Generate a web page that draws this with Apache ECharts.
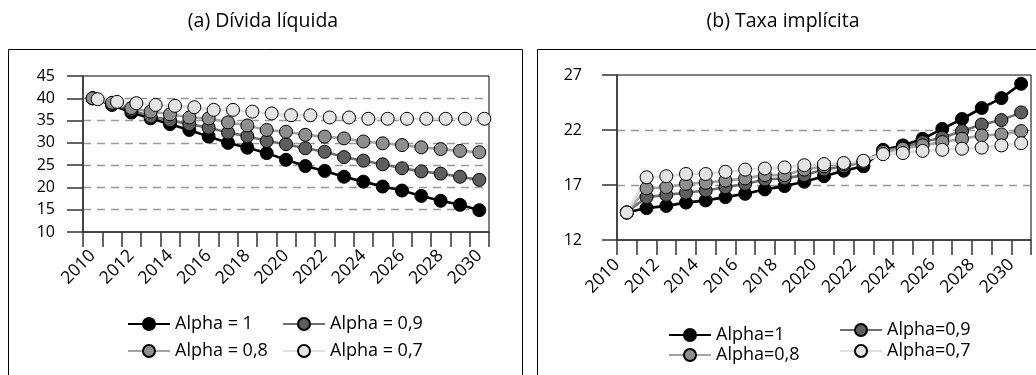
<!DOCTYPE html>
<html>
<head>
<meta charset="utf-8">
<script src="https://cdn.jsdelivr.net/npm/echarts@6/dist/echarts.min.js"></script>
<style>
  html, body { margin: 0; padding: 0; background: #fff; }
  #c { width: 1036px; height: 375px; }
</style>
</head>
<body>
<div id="c"></div>
<script>
// Years on the horizontal axis of both panels
const years = ['2010','2011','2012','2013','2014','2015','2016','2017','2018','2019','2020',
               '2021','2022','2023','2024','2025','2026','2027','2028','2029','2030'];
// Panel (b) puts its year labels on the category boundaries (one more boundary than years)
const rateTickLabels = years.concat(['']);

// (a) Dívida líquida
const debtA10 = [40.0, 38.5, 36.8, 35.5, 34.2, 32.9, 31.4, 30.0, 28.9, 27.7, 26.2, 24.8, 23.7, 22.4, 21.3, 20.2, 19.3, 18.1, 17.0, 16.1, 14.9];
const debtA09 = [40.0, 38.7, 37.4, 35.9, 35.1, 34.2, 33.4, 32.3, 31.5, 30.4, 29.7, 28.8, 28.0, 26.8, 26.0, 25.2, 24.3, 23.6, 23.1, 22.4, 21.7];
const debtA08 = [40.0, 39.0, 37.8, 37.0, 36.4, 35.7, 35.5, 34.6, 33.9, 32.9, 32.5, 31.8, 31.4, 31.0, 30.3, 29.9, 29.5, 29.0, 28.6, 28.2, 27.9];
const debtA07 = [39.8, 39.2, 38.9, 38.5, 38.3, 38.0, 37.4, 37.4, 37.0, 36.6, 36.2, 36.2, 35.7, 35.7, 35.4, 35.4, 35.4, 35.4, 35.4, 35.4, 35.4];

// (b) Taxa implícita
const rateA10 = [14.5, 14.9, 15.1, 15.4, 15.6, 15.9, 16.2, 16.6, 16.9, 17.3, 17.8, 18.3, 18.7, 20.2, 20.6, 21.2, 22.1, 23.0, 24.0, 24.9, 26.2];
const rateA09 = [14.5, 15.9, 16.1, 16.3, 16.5, 16.8, 17.1, 17.5, 17.6, 17.9, 18.4, 18.7, 19.1, 20.1, 20.4, 20.9, 21.3, 21.9, 22.5, 22.9, 23.6];
const rateA08 = [14.5, 16.7, 16.8, 17.1, 17.2, 17.4, 17.6, 17.9, 17.9, 18.4, 18.7, 18.9, 19.1, 20.0, 20.3, 20.6, 20.9, 21.2, 21.5, 21.6, 21.9];
const rateA07 = [14.5, 17.7, 17.8, 18.0, 18.0, 18.2, 18.4, 18.5, 18.6, 18.8, 18.9, 19.0, 19.2, 19.8, 19.9, 20.1, 20.2, 20.3, 20.4, 20.6, 20.8];

const FONT = 'Open Sans';
const INK = '#000';
const AXIS = '#333';

// Grey ramp shared by both panels: line colour and marker fill
const shades = [
  { line: '#000000', fill: '#000000' },
  { line: '#6f6f6f', fill: '#5e5e5e' },
  { line: '#a3a3a3', fill: '#8e8e8e' },
  { line: '#dedede', fill: '#e4e4e4' }
];

function lineSeries(name, data, axisIdx, shade) {
  return {
    type: 'line', name: name, data: data,
    xAxisIndex: axisIdx[0], yAxisIndex: axisIdx[1],
    symbol: 'circle', symbolSize: 13, showSymbol: true, showAllSymbol: true,
    lineStyle: { color: shade.line, width: 2.6 },
    itemStyle: { color: shade.fill, borderColor: '#000', borderWidth: 1 },
    emphasis: { disabled: true },
    animation: false
  };
}

function legendItem(name, left, top) {
  return {
    data: [name], left: left, top: top, padding: 0,
    itemWidth: 42, itemHeight: 15, selectedMode: false,
    textStyle: { fontFamily: FONT, fontSize: 18, color: INK }
  };
}

const yTickLabel = { fontFamily: FONT, fontSize: 16, color: INK };
const xTickLabel = { fontFamily: FONT, fontSize: 17.5, color: INK };
const dashed = { show: true, showMinLine: false, showMaxLine: false,
                 lineStyle: { color: '#999', type: [8, 6], width: 1.3 } };

const option = {
  backgroundColor: '#fff',
  animation: false,
  grid: [
    { left: 83, top: 76, width: 406, height: 156, show: true, borderColor: '#000', borderWidth: 1 },
    { left: 88, top: 76, width: 406, height: 156 },
    { left: 617, top: 75, width: 414, height: 165, show: true, borderColor: '#000', borderWidth: 1 }
  ],
  xAxis: [
    { gridIndex: 0, type: 'category', data: years, boundaryGap: true,
      axisLine: { lineStyle: { color: AXIS, width: 1.5 } },
      axisTick: { show: true, interval: 0, length: 15, lineStyle: { color: AXIS, width: 1.5 } },
      axisLabel: Object.assign({ interval: 1, rotate: 45, margin: 21 }, xTickLabel) },
    { gridIndex: 1, type: 'category', data: years, boundaryGap: true, show: false },
    { gridIndex: 2, type: 'category', data: years, boundaryGap: true, position: 'bottom',
      axisLine: { lineStyle: { color: AXIS, width: 1.5 } },
      axisTick: { show: true, interval: 0, length: 15, lineStyle: { color: AXIS, width: 1.5 } },
      axisLabel: { show: false } },
    { gridIndex: 2, type: 'category', data: rateTickLabels, boundaryGap: false, position: 'bottom',
      axisLine: { show: false }, axisTick: { show: false },
      axisLabel: Object.assign({ interval: 1, rotate: 45, margin: 22 }, xTickLabel) }
  ],
  yAxis: [
    { gridIndex: 0, type: 'value', min: 10, max: 45, interval: 5,
      axisLine: { show: true, lineStyle: { color: AXIS, width: 1.5 } },
      axisTick: { show: true, length: 16, lineStyle: { color: AXIS, width: 1.5 } },
      axisLabel: Object.assign({ margin: 28 }, yTickLabel),
      splitLine: dashed },
    { gridIndex: 1, type: 'value', min: 10, max: 45, show: false, splitLine: { show: false } },
    { gridIndex: 2, type: 'value', min: 12, max: 27, interval: 5,
      axisLine: { show: true, lineStyle: { color: AXIS, width: 1.5 } },
      axisTick: { show: true, length: 15, lineStyle: { color: AXIS, width: 1.5 } },
      axisLabel: Object.assign({ margin: 35 }, yTickLabel),
      splitLine: dashed }
  ],
  legend: [
    legendItem('Alpha = 1', 127, 315),
    legendItem('Alpha = 0,9', 282, 315),
    legendItem('Alpha = 0,8', 127, 342),
    legendItem('Alpha = 0,7', 282, 342),
    legendItem('Alpha=1', 668, 326),
    legendItem('Alpha=0,9', 839, 321),
    legendItem('Alpha=0,8', 668, 346),
    legendItem('Alpha=0,7', 839, 342)
  ],
  graphic: [
    { type: 'rect', z: -10, shape: { x: 8.5, y: 49.5, width: 514, height: 340 },
      style: { fill: 'none', stroke: '#000', lineWidth: 1 } },
    { type: 'rect', z: -10, shape: { x: 537.5, y: 49.5, width: 520, height: 340 },
      style: { fill: 'none', stroke: '#000', lineWidth: 1 } },
    { type: 'text', x: 263, y: 21,
      style: { text: '(a) Dívida líquida', fontFamily: FONT, fontSize: 19.5, fill: INK,
               align: 'center', verticalAlign: 'middle', textAlign: 'center', textVerticalAlign: 'middle' } },
    { type: 'text', x: 783, y: 21,
      style: { text: '(b) Taxa implícita', fontFamily: FONT, fontSize: 19.5, fill: INK,
               align: 'center', verticalAlign: 'middle', textAlign: 'center', textVerticalAlign: 'middle' } }
  ],
  series: [
    lineSeries('Alpha = 1',   debtA10, [0, 0], shades[0]),
    lineSeries('Alpha = 0,9', debtA09, [0, 0], shades[1]),
    lineSeries('Alpha = 0,8', debtA08, [0, 0], shades[2]),
    // this series sits on a grid nudged a few pixels right
    lineSeries('Alpha = 0,7', debtA07, [1, 1], shades[3]),
    lineSeries('Alpha=1',   rateA10, [2, 2], shades[0]),
    lineSeries('Alpha=0,9', rateA09, [2, 2], shades[1]),
    lineSeries('Alpha=0,8', rateA08, [2, 2], shades[2]),
    lineSeries('Alpha=0,7', rateA07, [2, 2], shades[3])
  ]
};

const chart = echarts.init(document.getElementById('c'));
chart.setOption(option);
</script>
</body>
</html>
